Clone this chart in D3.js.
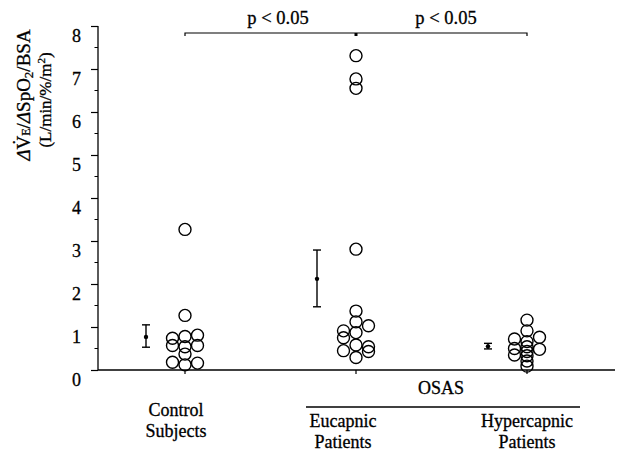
<!DOCTYPE html>
<html>
<head>
<meta charset="utf-8">
<script src="https://cdn.jsdelivr.net/npm/d3@7"></script>
<style>
  html, body { margin: 0; padding: 0; background: #fff; }
  svg { display: block; }
  text { font-family: "Liberation Serif", "Times New Roman", serif; fill: #000; stroke: #000; stroke-width: 0.3px; }
</style>
</head>
<body>
<div id="chart"></div>
<script>
// Groups along the x axis
const groups = ["Control", "Eucapnic", "Hypercapnic"];

// Individual ΔVE/ΔSpO2/BSA values (L/min/%/m²) and the lane each circle sits in
const controlValues = [3.27, 1.27, 0.74, 0.78, 0.81, 0.57, 0.54, 0.57, 0.37, 0.18, 0.12, 0.16];
const controlLane   = [0, 0, -1, 0, 1, -1, 0, 1, 0, -1, 0, 1];

const eucapnicValues = [7.31, 6.77, 6.55, 2.81, 1.37, 1.12, 1.03, 0.91, 0.87, 0.75, 0.58, 0.54, 0.45, 0.43, 0.29];
const eucapnicLane   = [0, 0, 0, 0, 0, 0, 1, -1, 0, -1, 0, 1, -1, 1, 0];

const hypercapnicValues = [1.16, 0.91, 0.72, 0.76, 0.66, 0.54, 0.50, 0.48, 0.43, 0.35, 0.33, 0.21, 0.09];
const hypercapnicLane   = [0, 0, -1, 1, 0, 0, -1, 1, 0, -1, 0, 0, 0];

// Group mean with error bar (low, mean, high)
const groupMean = [0.77, 2.12, 0.55];
const groupLow  = [0.53, 1.47, 0.49];
const groupHigh = [1.05, 2.79, 0.62];

// Axis ticks
const yTicks = [0, 1, 2, 3, 4, 5, 6, 7, 8];
const yMinorTicks = [0.5, 1.5, 2.5, 3.5, 4.5, 5.5, 6.5, 7.5];

// Category labels
const groupLabels = [["Control", "Subjects"], ["Eucapnic", "Patients"], ["Hypercapnic", "Patients"]];
const osasLabel = "OSAS";
const sigLabel = "p < 0.05";

const W = 619, H = 454;
const svg = d3.select("#chart").append("svg").attr("width", W).attr("height", H);

const y = d3.scaleLinear().domain([0, 8]).range([370, 26]);
const x = d3.scalePoint().domain(groups).range([185, 527]);
const lane = d3.scaleLinear().domain([-1, 1]).range([-12.5, 12.5]);
const axisLeftX = 98;
const axisRightX = 615;
const errOffset = -39;

// Y axis
const yAxis = svg.append("g").attr("transform", `translate(${axisLeftX},0)`)
  .call(d3.axisLeft(y).tickValues(yTicks).tickSize(7).tickPadding(10).tickFormat(d3.format("d")));
yAxis.select(".domain").attr("d", `M0,${y(8)}V${y(0)}`).attr("stroke", "#000").attr("stroke-width", 1.3);
yAxis.selectAll(".tick line").attr("stroke", "#000").attr("stroke-width", 1.2);
yAxis.selectAll(".tick text").attr("dy", "0.85em").attr("font-size", 18).attr("fill", "#000")
  .attr("font-family", "Liberation Serif, serif");
yAxis.selectAll(".minor").data(yMinorTicks).enter().append("line")
  .attr("class", "minor").attr("x1", -3.5).attr("x2", 0)
  .attr("y1", d => y(d)).attr("y2", d => y(d)).attr("stroke", "#000").attr("stroke-width", 1);

// X baseline and category ticks
svg.append("line").attr("x1", axisLeftX).attr("x2", axisRightX)
  .attr("y1", y(0)).attr("y2", y(0)).attr("stroke", "#000").attr("stroke-width", 1.3);
svg.selectAll(".xtick").data(groups).enter().append("line")
  .attr("class", "xtick").attr("x1", d => x(d)).attr("x2", d => x(d))
  .attr("y1", y(0)).attr("y2", y(0) + 4).attr("stroke", "#000").attr("stroke-width", 1.2);

// Y axis title
const yTitle = svg.append("text")
  .attr("transform", `translate(30,${95}) rotate(-90)`)
  .attr("text-anchor", "middle").attr("font-size", 19);
yTitle.append("tspan").attr("font-style", "italic").text("Δ");
yTitle.append("tspan").text("V\u0307");
yTitle.append("tspan").attr("font-size", 12).text("E");
yTitle.append("tspan").text("/");
yTitle.append("tspan").attr("font-style", "italic").text("Δ");
yTitle.append("tspan").text("SpO");
yTitle.append("tspan").attr("font-size", 13).attr("dy", 3).text("2");
yTitle.append("tspan").attr("dy", -3).text("/BSA");

const yUnit = svg.append("text")
  .attr("transform", `translate(51,${100}) rotate(-90)`)
  .attr("text-anchor", "middle").attr("font-size", 17);
yUnit.append("tspan").text("(L/min/%/m");
yUnit.append("tspan").attr("font-size", 11).attr("dy", -6).text("2");
yUnit.append("tspan").attr("dy", 6).text(")");

// Individual points
const points = [
  ...controlValues.map((v, i) => ({ g: "Control", v, lane: controlLane[i] })),
  ...eucapnicValues.map((v, i) => ({ g: "Eucapnic", v, lane: eucapnicLane[i] })),
  ...hypercapnicValues.map((v, i) => ({ g: "Hypercapnic", v, lane: hypercapnicLane[i] }))
];
svg.selectAll(".pt").data(points).enter().append("circle")
  .attr("class", "pt")
  .attr("cx", d => x(d.g) + lane(d.lane))
  .attr("cy", d => y(d.v))
  .attr("r", 6)
  .attr("fill", "none").attr("stroke", "#000").attr("stroke-width", 1.4);

// Mean ± error bars
const summary = groups.map((g, i) => ({ g, mean: groupMean[i], lo: groupLow[i], hi: groupHigh[i] }));
const eb = svg.selectAll(".eb").data(summary).enter().append("g").attr("class", "eb")
  .attr("transform", d => `translate(${x(d.g) + errOffset},0)`);
eb.append("line").attr("y1", d => y(d.lo)).attr("y2", d => y(d.hi)).attr("stroke", "#000").attr("stroke-width", 1.4);
eb.append("line").attr("x1", -4).attr("x2", 4).attr("y1", d => y(d.hi)).attr("y2", d => y(d.hi)).attr("stroke", "#000").attr("stroke-width", 1.4);
eb.append("line").attr("x1", -4).attr("x2", 4).attr("y1", d => y(d.lo)).attr("y2", d => y(d.lo)).attr("stroke", "#000").attr("stroke-width", 1.4);
eb.append("circle").attr("cy", d => y(d.mean)).attr("r", 2.2).attr("fill", "#000");

// Significance bracket
const by = 33;
svg.append("path")
  .attr("d", `M${x("Control")},${by + 3}V${by}H${x("Hypercapnic")}V${by + 3}`)
  .attr("fill", "none").attr("stroke", "#000").attr("stroke-width", 1.2);
svg.append("rect").attr("x", x("Eucapnic") - 1.5).attr("y", by).attr("width", 3).attr("height", 3).attr("fill", "#000");
svg.append("text").attr("x", 278).attr("y", 24)
  .attr("text-anchor", "middle").attr("font-size", 18.5).text(sigLabel);
svg.append("text").attr("x", 446).attr("y", 24)
  .attr("text-anchor", "middle").attr("font-size", 18.5).text(sigLabel);

// Category labels
svg.append("text").attr("x", 441).attr("y", 394).attr("text-anchor", "middle").attr("font-size", 18).text(osasLabel);
svg.append("line").attr("x1", 306).attr("x2", 580).attr("y1", 407).attr("y2", 407).attr("stroke", "#000").attr("stroke-width", 1.3);

const labelPos = [
  { cx: 176, y0: 416 },
  { cx: 343, y0: 427 },
  { cx: 527, y0: 427 }
];
groupLabels.forEach((lines, i) => {
  const t = svg.append("text").attr("text-anchor", "middle").attr("font-size", 18);
  lines.forEach((s, j) => {
    t.append("tspan").attr("x", labelPos[i].cx).attr("y", labelPos[i].y0 + j * 21).text(s);
  });
});
</script>
</body>
</html>
